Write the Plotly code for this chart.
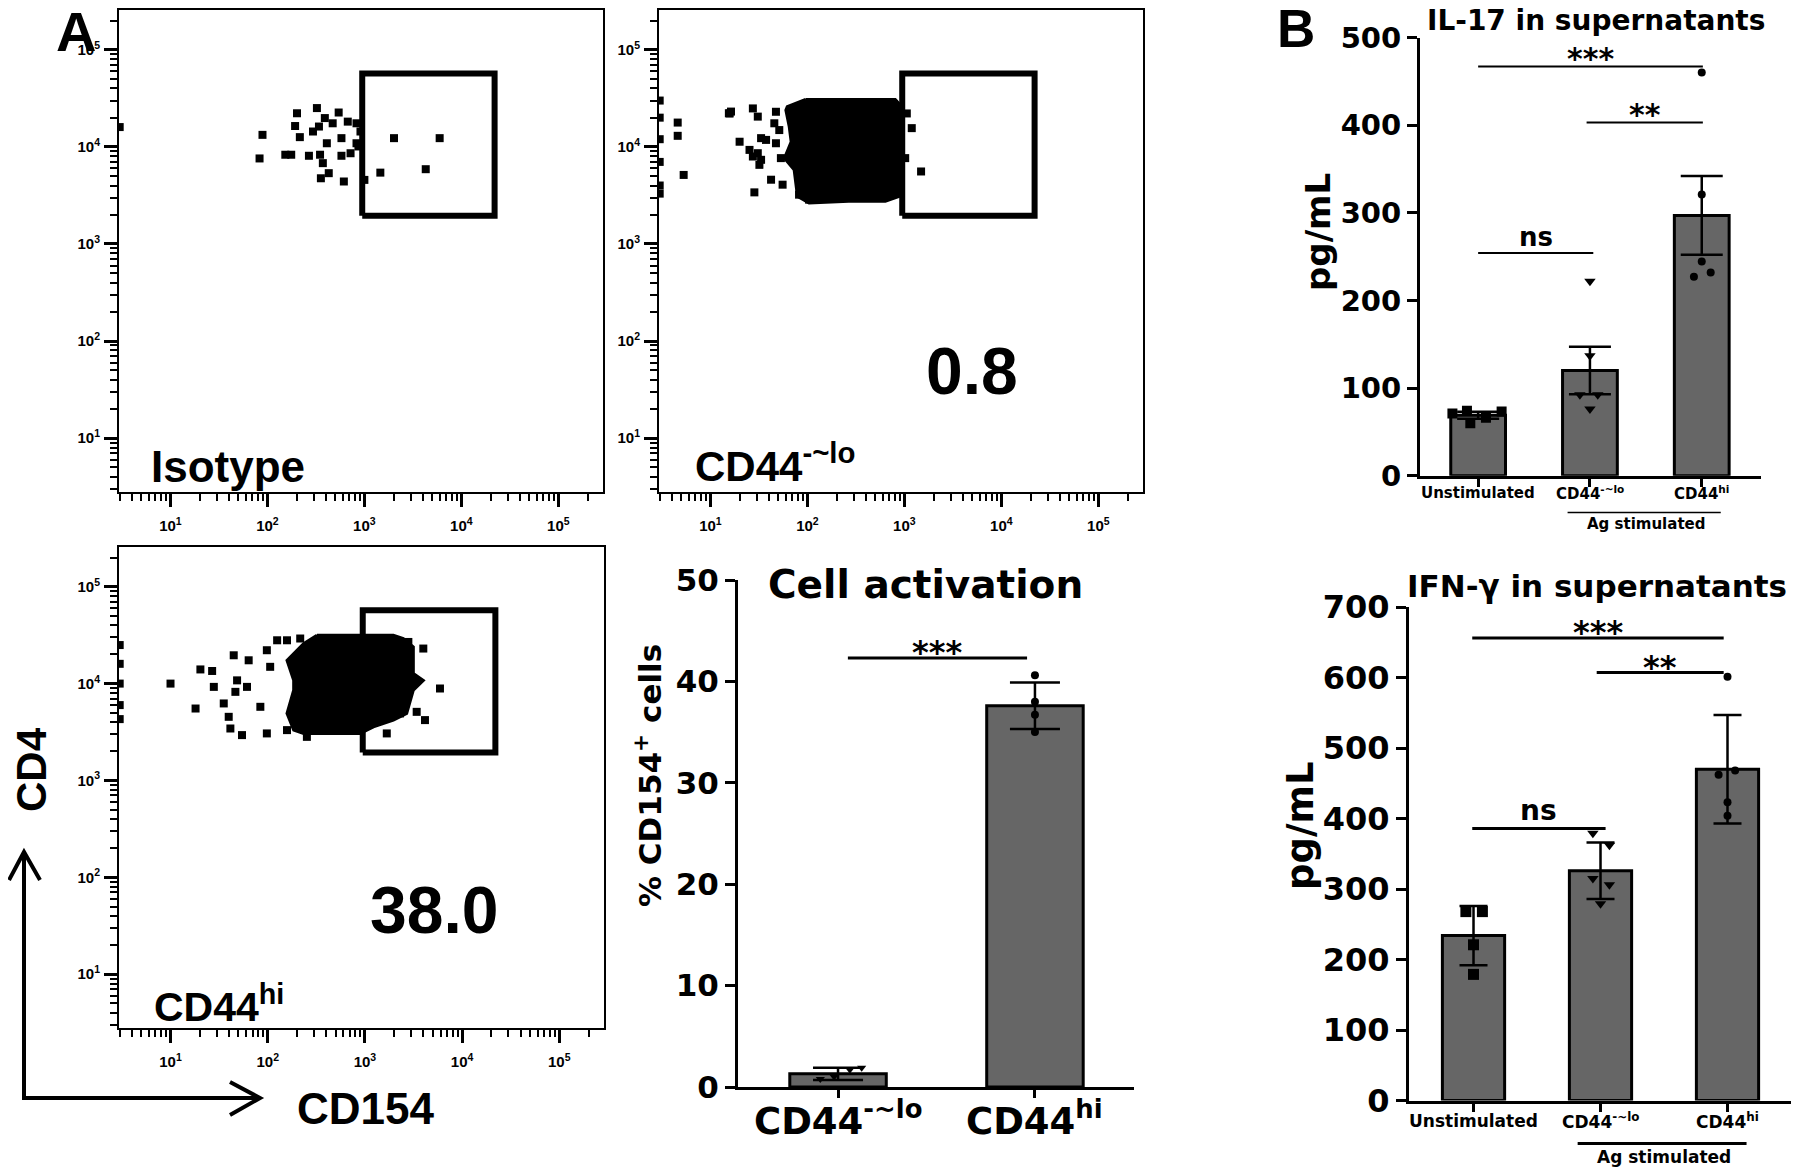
import plotly.graph_objects as go

W, H = 1800, 1172
OFF = 8  # page body margin compensation

# ------------------------------------------------------------------ data
flow_ticks = [10, 100, 1000, 10000, 100000]
flow_ticktext = ["10<sup>1</sup>", "10<sup>2</sup>", "10<sup>3</sup>", "10<sup>4</sup>", "10<sup>5</sup>"]

gate_x = [950, 22000]
gate_y = [1950, 57000]

# Isotype dots (CD154, CD4)
iso_x = [83, 89, 176, 202, 193, 216, 268, 295, 324, 340, 349, 356, 373, 391, 410, 429,
         471, 543, 580, 580, 614, 674, 720, 829, 868, 911, 1000, 1460, 2020, 4290, 5970,
         153, 829, 3]
iso_y = [7600, 13300, 8300, 22200, 16400, 12600, 8100, 14400, 25100, 16200, 8300, 4750,
         6800, 19800, 10900, 5360, 17500, 22600, 12300, 8100, 4400, 18200, 8600, 17500,
         10100, 14400, 4570, 5430, 12300, 5890, 12300, 8300, 10900, 16000]

# CD44 -~lo : dense cloud outline + scattered dots
lo_cloud_x = [96, 805, 880, 880, 636, 267, 104, 79, 73, 58, 68, 65, 60, 62]
lo_cloud_y = [30800, 30800, 28000, 3090, 2750, 2750, 2650, 3090, 5800, 7660, 11300, 16100, 23900, 25900]
lo_x = [4.6, 4.6, 5.3, 15.5, 16.3, 15.8, 27.4, 30.8, 47.4, 45.6, 51.3, 20, 33.3, 37.5, 47.4,
        25.3, 30.8, 27.4, 33.3, 32, 53.3, 42.2, 55.5, 28.4, 82, 104, 126, 1486, 1191, 1059, 1019,
        3, 3, 3, 3, 3, 3]
lo_y = [17800, 13000, 5140, 22200, 23100, 22100, 24900, 20500, 23000, 17500, 14900, 11300, 12300,
        11800, 10900, 9310, 8610, 7960, 7360, 6530, 7660, 4590, 4080, 3400, 3220, 2860, 3220,
        5580, 15600, 22100, 7660, 30000, 20000, 12000, 7000, 4000, 3300]

# CD44 hi : dense cloud outline + scattered dots
hi_cloud_x = [321, 1963, 2485, 3150, 3150, 3990, 3150, 2690, 1963, 1223, 893, 234, 185, 158,
              185, 185, 158, 200, 234]
hi_cloud_y = [31500, 31500, 29200, 23900, 12700, 10800, 8560, 4920, 4200, 3580, 3060, 3060, 3310,
              4920, 8560, 10800, 17400, 22100, 25900]
hi_x = [10, 18.1, 20.3, 26.8, 27.9, 35.3, 39.7, 41.3, 54.4, 44.7, 63.7, 48.4, 46.5, 61.2, 84, 98,
        125, 158, 216, 98, 106, 158, 253, 5920, 4150, 3410, 3990, 2800, 1679, 2300,
        3, 3, 3, 3, 3]
hi_y = [10000, 5530, 14000, 13500, 9250, 6240, 4540, 3440, 2940, 19600, 17400, 10800, 8220, 9250,
        5760, 3060, 28000, 28000, 29200, 22100, 14900, 3310, 2820, 8900, 4200, 5110, 23000, 26900,
        3060, 4920, 25000, 16000, 10000, 6000, 4300]

flow_labels = ["Isotype", "CD44<sup>-~lo</sup>", "CD44<sup>hi</sup>"]
flow_pct = ["0.8", "38.0"]

# Cell activation
act_cats = ["CD44<sup>-~lo</sup>", "CD44<sup>hi</sup>"]
act_mean = [1.3, 37.6]
act_err = [0.6, 2.3]
act_pts = [[0.8, 1.0, 1.7, 1.9], [40.6, 38.0, 36.7, 35.0]]
act_sig = [(0.05, 0.96, 42.3, "***")]

# Cytokines
cyt_cats = ["Unstimulated", "CD44<sup>-~lo</sup>", "CD44<sup>hi</sup>"]
il17_mean = [69, 120, 297]
il17_err = [4, 27, 45]
il17_pts = [[70.9, 74.2, 59.9, 66.0, 73.3], [222, 137, 92.5, 92.5, 76], [460, 321, 244.5, 227, 232]]
il17_sig = [(0.0, 2.01, 467, "***"), (0.97, 2.01, 403, "**"), (0.0, 1.03, 254, "ns")]

ifn_mean = [234, 326, 470]
ifn_err = [42, 40, 77]
ifn_pts = [[268, 268, 221, 179], [379, 362, 315, 306, 279], [601, 462, 468, 423, 404]]
ifn_sig = [(-0.01, 1.97, 656, "***"), (0.97, 1.97, 607, "**"), (-0.01, 1.04, 386, "ns")]

# ------------------------------------------------------------------ styling helpers
act_offsets = [[-0.09, -0.02, 0.06, 0.12], [0, 0, 0, 0]]
il17_offsets = [[-0.23, -0.1, -0.07, 0.07, 0.21], [0, 0, -0.09, 0.07, 0], [0, 0, 0, -0.07, 0.08]]
ifn_offsets = [[-0.06, 0.07, 0, 0], [-0.06, 0.07, -0.06, 0.07, 0], [0, -0.07, 0.06, 0, 0]]

BARFONT = "DejaVu Sans"
FLOWFONT = "Liberation Sans, Arial"
TICKFONT = "Liberation Sans Narrow, Liberation Sans, Arial"


def px(x):
    return (x - OFF) / W


def py(y):
    return 1 - (y - OFF) / H


def dom_x(a, b):
    return [px(a), px(b)]


def dom_y(top, bottom):
    return [py(bottom), py(top)]


fig = go.Figure()
ann = []

# ------------------------------------------------------------------ flow plots
flow_sets = [
    ("x", "y", None, None, iso_x, iso_y),
    ("x2", "y2", lo_cloud_x, lo_cloud_y, lo_x, lo_y),
    ("x3", "y3", hi_cloud_x, hi_cloud_y, hi_x, hi_y),
]
for xa, ya, cx, cy, dx, dy in flow_sets:
    if cx is not None:
        fig.add_trace(go.Scatter(x=cx + [cx[0]], y=cy + [cy[0]], mode="lines", fill="toself",
                                 fillcolor="black", line=dict(color="black", width=3),
                                 xaxis=xa, yaxis=ya, hoverinfo="skip"))
    fig.add_trace(go.Scatter(x=dx, y=dy, mode="markers",
                             marker=dict(symbol="square", size=8, color="black"),
                             xaxis=xa, yaxis=ya))
    gx = [gate_x[0], gate_x[1], gate_x[1], gate_x[0], gate_x[0]]
    gy = [gate_y[0], gate_y[0], gate_y[1], gate_y[1], gate_y[0]]
    fig.add_trace(go.Scatter(x=gx, y=gy, mode="lines", line=dict(color="black", width=6),
                             xaxis=xa, yaxis=ya, hoverinfo="skip"))


def flow_axis(dom, rng, anchor, standoff):
    return dict(type="log", domain=dom, range=rng, anchor=anchor, automargin=False,
                showline=True, linecolor="black", linewidth=2, mirror=True,
                ticks="outside", ticklen=13, tickwidth=2.5, tickcolor="black",
                tickvals=flow_ticks, ticktext=flow_ticktext, ticklabelstandoff=standoff,
                tickfont=dict(family=TICKFONT, size=15, color="black", weight="bold"),
                showgrid=False, zeroline=False,
                minor=dict(ticks="outside", ticklen=7, tickwidth=1.5, tickcolor="black",
                           dtick="D1", showgrid=False))


FX = [0.47, 5.46]
FY = [0.445, 5.41]
layout_axes = dict(
    xaxis=flow_axis(dom_x(119, 603), FX, "y", 6),
    yaxis=flow_axis(dom_y(10, 492), FY, "x", 1),
    xaxis2=flow_axis(dom_x(659, 1143), FX, "y2", 6),
    yaxis2=flow_axis(dom_y(10, 492), FY, "x2", 1),
    xaxis3=flow_axis(dom_x(119, 604), FX, "y3", 6),
    yaxis3=flow_axis(dom_y(547, 1028), FY, "x3", 1),
)


# ------------------------------------------------------------------ bar charts
def add_bar_chart(xa, ya, cats, means, errs, pts, offsets, sigs, symbols, sizes, capw, sig_w,
                  star_size, ns_size, star_up, ns_up, lab_y, lab_size):
    idx = list(range(len(means)))
    fig.add_trace(go.Bar(x=idx, y=means, width=0.49,
                         marker=dict(color="#666666", line=dict(color="black", width=3)),
                         error_y=dict(type="data", array=errs, visible=True, color="black",
                                      thickness=2.5, width=capw),
                         xaxis=xa, yaxis=ya))
    for i in idx:
        fig.add_trace(go.Scatter(x=[i + o for o in offsets[i]], y=pts[i], mode="markers",
                                 marker=dict(symbol=symbols[i], size=sizes[i], color="black"),
                                 xaxis=xa, yaxis=ya))
    for x0, x1, y, lab in sigs:
        fig.add_trace(go.Scatter(x=[x0, x1], y=[y, y], mode="lines",
                                 line=dict(color="black", width=sig_w), xaxis=xa, yaxis=ya))
        is_ns = lab == "ns"
        ann.append(dict(x=(x0 + x1) / 2, y=y, xref=xa, yref=ya, text=lab,
                        yanchor="middle", yshift=ns_up if is_ns else star_up,
                        font=dict(family=BARFONT, size=ns_size if is_ns else star_size,
                                  color="black", weight="bold")))
    for i, c in enumerate(cats):
        ann.append(dict(x=i, y=py(lab_y), xref=xa, yref="paper", text=c,
                        xanchor="center", yanchor="middle",
                        font=dict(family=BARFONT, size=lab_size, color="black", weight="bold")))


add_bar_chart("x4", "y4", act_cats, act_mean, act_err, act_pts, act_offsets, act_sig,
              ["triangle-down", "circle"], [8, 8], 25, 3, 32, 27, 6, 17, 1118, 37)
add_bar_chart("x5", "y5", cyt_cats, il17_mean, il17_err, il17_pts, il17_offsets, il17_sig,
              ["square", "triangle-down", "circle"], [10, 10, 8], 21, 2, 30, 26, 8, 16, 493, 15)
add_bar_chart("x6", "y6", cyt_cats, ifn_mean, ifn_err, ifn_pts, ifn_offsets, ifn_sig,
              ["square", "triangle-down", "circle"], [11, 10, 8], 14, 3, 32, 28, 6, 18, 1121, 17)


def bar_xaxis(dom, rng, n, anchor):
    return dict(domain=dom, range=rng, anchor=anchor, tickvals=list(range(n)), showticklabels=False,
                automargin=False, showline=True, linecolor="black", linewidth=3, ticks="outside",
                ticklen=8, tickwidth=2.5, tickcolor="black", showgrid=False, zeroline=False)


def bar_yaxis(dom, rng, dtick, size, anchor):
    return dict(domain=dom, range=rng, anchor=anchor, dtick=dtick, tick0=0, automargin=False,
                showline=True, linecolor="black", linewidth=3, ticks="outside", ticklen=10,
                tickwidth=3, tickcolor="black",
                tickfont=dict(family=BARFONT, size=size, color="black", weight="bold"),
                showgrid=False, zeroline=False)


layout_axes.update(
    xaxis4=bar_xaxis(dom_x(738, 1134), [-0.508, 1.503], 2, "y4"),
    yaxis4=bar_yaxis(dom_y(580, 1087), [0, 50], 10, 31, "x4"),
    xaxis5=bar_xaxis(dom_x(1420, 1761), [-0.52, 2.53], 3, "y5"),
    yaxis5=bar_yaxis(dom_y(37.5, 475.7), [0, 500], 100, 29, "x5"),
    xaxis6=bar_xaxis(dom_x(1409, 1791), [-0.508, 2.5], 3, "y6"),
    yaxis6=bar_yaxis(dom_y(607, 1100.6), [0, 700], 100, 32, "x6"),
)

# ------------------------------------------------------------------ texts
bold = dict(color="black", weight="bold")
# flow labels
ann.append(dict(x=0.061, y=0.052, xref="x domain", yref="y domain", text=flow_labels[0],
                xanchor="left", yanchor="middle", font=dict(family=FLOWFONT, size=44, **bold)))
ann.append(dict(x=0.070, y=0.06, xref="x2 domain", yref="y2 domain", text=flow_labels[1],
                xanchor="left", yanchor="middle", font=dict(family=FLOWFONT, size=42, **bold)))
ann.append(dict(x=0.647, y=0.251, xref="x2 domain", yref="y2 domain", text=flow_pct[0],
                xanchor="center", yanchor="middle", font=dict(family=FLOWFONT, size=66, **bold)))
ann.append(dict(x=0.069, y=0.05, xref="x3 domain", yref="y3 domain", text=flow_labels[2],
                xanchor="left", yanchor="middle", font=dict(family=FLOWFONT, size=41, **bold)))
ann.append(dict(x=0.650, y=0.245, xref="x3 domain", yref="y3 domain", text=flow_pct[1],
                xanchor="center", yanchor="middle", font=dict(family=FLOWFONT, size=66, **bold)))
# axis direction labels
ann.append(dict(x=px(31), y=py(770), xref="paper", yref="paper", text="CD4", textangle=-90,
                xanchor="center", yanchor="middle", font=dict(family=FLOWFONT, size=42, **bold)))
ann.append(dict(x=px(365), y=py(1108), xref="paper", yref="paper", text="CD154",
                xanchor="center", yanchor="middle", font=dict(family=FLOWFONT, size=44, **bold)))
# panel letters
ann.append(dict(x=px(76), y=py(31), xref="paper", yref="paper", text="A",
                xanchor="center", yanchor="middle", font=dict(family=FLOWFONT, size=56, **bold)))
ann.append(dict(x=px(1296), y=py(28), xref="paper", yref="paper", text="B",
                xanchor="center", yanchor="middle", font=dict(family=FLOWFONT, size=53, **bold)))
# titles
ann.append(dict(x=px(925), y=py(584), xref="paper", yref="paper", text="Cell activation",
                xanchor="center", yanchor="middle", font=dict(family=BARFONT, size=39, **bold)))
ann.append(dict(x=px(1596), y=py(20), xref="paper", yref="paper", text="IL-17 in supernatants",
                xanchor="center", yanchor="middle", font=dict(family=BARFONT, size=28, **bold)))
ann.append(dict(x=px(1597), y=py(586), xref="paper", yref="paper", text="IFN-γ in supernatants",
                xanchor="center", yanchor="middle", font=dict(family=BARFONT, size=31, **bold)))
# y titles
ann.append(dict(x=px(648), y=py(776), xref="paper", yref="paper", text="% CD154<sup>+</sup> cells",
                textangle=-90, xanchor="center", yanchor="middle",
                font=dict(family=BARFONT, size=31, **bold)))
ann.append(dict(x=px(1318), y=py(232), xref="paper", yref="paper", text="pg/mL", textangle=-90,
                xanchor="center", yanchor="middle", font=dict(family=BARFONT, size=34, **bold)))
ann.append(dict(x=px(1301), y=py(826), xref="paper", yref="paper", text="pg/mL", textangle=-90,
                xanchor="center", yanchor="middle", font=dict(family=BARFONT, size=37, **bold)))
# Ag stimulated
ann.append(dict(x=1.5, y=py(524), xref="x5", yref="paper", text="Ag stimulated",
                xanchor="center", yanchor="middle", font=dict(family=BARFONT, size=15, **bold)))
ann.append(dict(x=1.5, y=py(1157), xref="x6", yref="paper", text="Ag stimulated",
                xanchor="center", yanchor="middle", font=dict(family=BARFONT, size=17, **bold)))
for a in ann:
    a["showarrow"] = False

shapes = [
    dict(type="line", xref="x5", yref="paper", x0=1 - 0.2, x1=2 + 0.17, y0=py(512.5), y1=py(512.5),
         line=dict(color="black", width=1.5)),
    dict(type="line", xref="x6", yref="paper", x0=1 - 0.18, x1=2 + 0.15, y0=py(1143.5), y1=py(1143.5),
         line=dict(color="black", width=3)),
    # CD4 / CD154 arrows
    dict(type="path", xref="paper", yref="paper",
         path=f"M {px(24)},{py(852)} L {px(24)},{py(1098)} L {px(260)},{py(1098)}",
         line=dict(color="black", width=4)),
    dict(type="path", xref="paper", yref="paper",
         path=f"M {px(9)},{py(880)} L {px(24)},{py(852)} L {px(40)},{py(880)}",
         line=dict(color="black", width=4)),
    dict(type="path", xref="paper", yref="paper",
         path=f"M {px(230)},{py(1082)} L {px(260)},{py(1098)} L {px(230)},{py(1115)}",
         line=dict(color="black", width=4)),
]

fig.update_layout(
    width=W, height=H, margin=dict(l=0, r=0, t=0, b=0, autoexpand=False),
    paper_bgcolor="white", plot_bgcolor="white", showlegend=False,
    annotations=ann, shapes=shapes, **layout_axes,
)

fig.write_html("out.html")
